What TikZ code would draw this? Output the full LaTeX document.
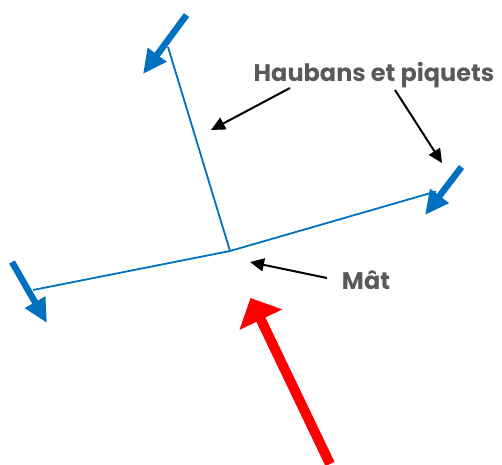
\documentclass[tikz,border=0pt]{standalone}
\usepackage{fontspec}
\setmainfont{Poppins}
\usetikzlibrary{arrows.meta}
\definecolor{wireblue}{HTML}{0070C0}
\definecolor{txtgray}{HTML}{595959}
\tikzset{
  wire/.style={wireblue, line width=1.8pt},
  peg/.style={wireblue, line width=6.5pt, -{Triangle[length=24pt,width=22pt]}},
  pointer/.style={black, line width=2pt, -{Triangle[length=14pt,width=13pt]}},
  wind/.style={red, line width=10pt, -{Triangle[length=24pt,width=46pt]}},
  lbl/.style={txtgray, font=\bfseries\fontsize{24}{28}\selectfont, inner sep=0pt}
}
\begin{document}
\begin{tikzpicture}[x=1pt,y=-1pt]
\useasboundingbox (0,0) rectangle (502,464);
% wires
\coordinate (m) at (230,251);
\coordinate (wt) at (168,47);
\coordinate (wr) at (436,191.5);
\coordinate (wl) at (33,290);
\draw[wire] (wt) -- (m);
\draw[wire] (wl) -- (m) -- (wr);
% pegs
\coordinate (p1s) at (186.5,15);
\coordinate (p1e) at (143,74);
\coordinate (p2s) at (461.5,167);
\coordinate (p2e) at (425,215);
\coordinate (p3s) at (12,262);
\coordinate (p3e) at (47,323);
\draw[peg] (p1s) -- (p1e);
\draw[peg] (p2s) -- (p2e);
\draw[peg] (p3s) -- (p3e);
% labels
\node[lbl] (hp) at (374,75) {Haubans et piquets};
\node[lbl] (mat) at (366,280) {Mât};
% pointers
\coordinate (a1s) at (290,88);
\coordinate (a1e) at (211,130);
\coordinate (a2s) at (395,90);
\coordinate (a2e) at (442,163);
\coordinate (a3s) at (327,278);
\coordinate (a3e) at (250,262);
\draw[pointer] (a1s) -- (a1e);
\draw[pointer] (a2s) -- (a2e);
\draw[pointer] (a3s) -- (a3e);
% wind
\coordinate (ws) at (330,464);
\coordinate (we) at (250.5,298);
\draw[wind] (ws) -- (we);
\end{tikzpicture}
\end{document}
